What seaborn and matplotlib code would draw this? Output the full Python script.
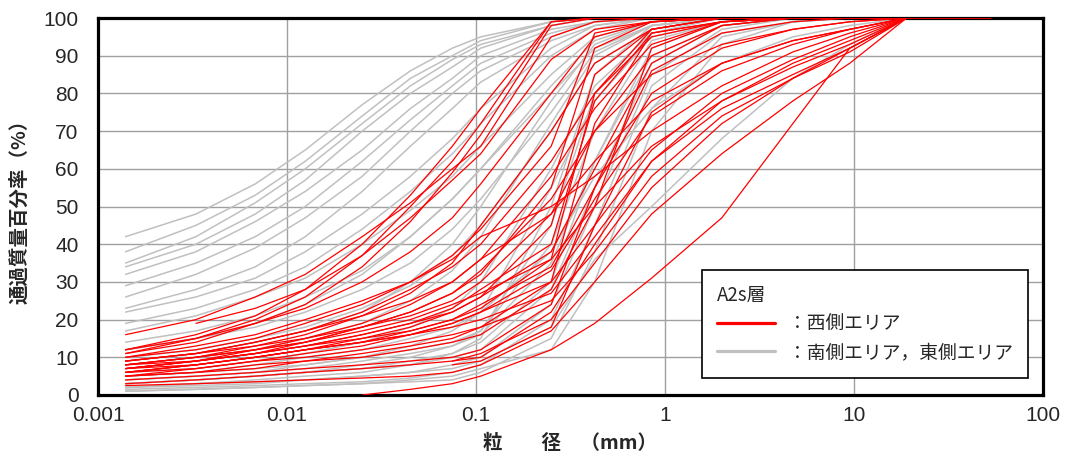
# 粒径加積曲線 (A2s層)
import numpy as np
import pandas as pd
import matplotlib
matplotlib.use("Agg")
import matplotlib.pyplot as plt
from matplotlib.lines import Line2D
from matplotlib.ticker import LogLocator, FixedLocator, MultipleLocator, FuncFormatter
import seaborn as sns

# ==========================================
# Data
# ==========================================
N = None

# grain size (mm)
sizes = [0.0014, 0.0033, 0.0068, 0.0125, 0.025, 0.045, 0.075, 0.106,
         0.25, 0.425, 0.85, 2.0, 4.75, 9.5, 19.0, 53.0]

# west area (red): passing percent at each size
west_curves = [
    [12, 16, 21, 28, 40, 53, 66, 76, 99, 100, 100, 100, 100, 100, 100, N],
    [11, 15, 20, 26, 37, 50, 62, 72, 99, 100, 100, 100, 100, 100, 100, N],
    [11, 14, 19, 24, 34, 46, 59, 69, 98, 100, 100, 100, 100, 100, 100, N],
    [16, 20, 26, 32, 42, 51, 60, 66, 95, 99, 100, 100, 100, 100, 100, N],
    [N, 19, 23, 28, 37, 47, 57, 64, 89, 97, 99, 100, 100, 100, 100, 100],
    [12, 15, 19, 23, 30, 38, 47, 56, 80, 95, 99, 100, 100, 100, 100, N],
    [9, 11, 14, 17, 22, 28, 34, 40, 62, 80, 95, 99, 100, 100, 100, N],
    [8, 10, 12, 15, 19, 24, 30, 36, 58, 76, 93, 99, 100, 100, 100, N],
    [7, 9, 12, 14, 18, 22, 27, 33, 52, 70, 90, 98, 100, 100, 100, N],
    [8, 10, 13, 16, 21, 27, 35, 45, 70, 88, 97, 100, 100, 100, 100, N],
    [6, 8, 10, 12, 15, 18, 22, 26, 38, 60, 88, 98, 100, 100, 100, N],
    [7, 9, 11, 13, 16, 19, 23, 28, 40, 78, 96, 99, 100, 100, 100, N],
    [6, 8, 10, 12, 14, 17, 20, 24, 34, 55, 80, 92, 97, 99, 100, N],
    [9, 11, 14, 17, 21, 25, 30, 36, 48, 62, 78, 88, 94, 97, 100, N],
    [5, 7, 9, 11, 13, 16, 19, 22, 30, 45, 65, 80, 89, 95, 100, N],
    [8, 10, 12, 14, 17, 20, 24, 27, 36, 50, 66, 78, 87, 93, 100, N],
    [6, 8, 10, 12, 14, 16, 18, 20, 27, 42, 62, 76, 85, 92, 100, N],
    [5, 6, 8, 9, 11, 13, 15, 18, 25, 38, 58, 74, 84, 91, 100, N],
    [7, 9, 11, 13, 15, 17, 20, 23, 36, 80, 97, 100, 100, 100, 100, N],
    [6, 7, 9, 10, 12, 14, 16, 18, 30, 72, 96, 99, 100, 100, 100, N],
    [5, 6, 7, 9, 10, 12, 14, 16, 28, 50, 92, 99, 100, 100, 100, N],
    [10, 13, 16, 20, 25, 30, 36, 42, 50, 58, 70, 82, 91, 96, 100, N],
    [3, 4, 5, 6, 7, 8, 9, 11, 20, 35, 55, 72, 84, 92, 100, N],
    [N, N, N, N, N, N, 9, 10, 22, 40, 62, 78, 88, 94, 100, N],
    [N, N, N, N, N, N, 8, 9, 18, 45, 75, 88, 94, 97, 100, N],
    [N, N, N, N, 0, 1.5, 3, 5, 12, 19, 31, 47, 72, 92, 100, N],
    [4, 5, 6, 7, 8, 9, 10, 12, 24, 55, 86, 96, 99, 100, 100, N],
    [8, 9, 11, 13, 16, 19, 22, 26, 45, 85, 97, 100, 100, 100, 100, N],
    [9, 11, 13, 15, 18, 21, 25, 30, 48, 70, 85, 93, 97, 99, 100, N],
    [7, 8, 10, 12, 14, 16, 19, 22, 33, 52, 74, 86, 93, 97, 100, 100],
    [2.5, 3, 3.5, 4, 4.5, 5, 6, 8, 17, 30, 48, 64, 78, 88, 100, N],
    [10, 12, 15, 19, 24, 30, 37, 44, 66, 96, 99, 100, 100, 100, 100, N],
    [7, 9, 11, 14, 18, 22, 27, 32, 55, 92, 99, 100, 100, 100, 100, N],
]

# south / east area (gray)
south_east_curves = [
    [42, 48, 56, 65, 77, 86, 92, 95, 99, 100, 100, 100, 100, 100, 100, N],
    [38, 45, 53, 62, 74, 84, 90, 94, 99, 100, 100, 100, 100, 100, 100, N],
    [35, 42, 51, 60, 72, 82, 89, 93, 98, 100, 100, 100, 100, 100, 100, N],
    [34, 40, 48, 57, 70, 80, 87, 92, 98, 100, 100, 100, 100, 100, 100, N],
    [32, 38, 46, 54, 65, 76, 84, 90, 97, 99, 100, 100, 100, 100, 100, N],
    [29, 35, 42, 50, 62, 73, 82, 88, 96, 99, 100, 100, 100, 100, 100, N],
    [26, 32, 39, 47, 58, 70, 80, 86, 95, 99, 100, 100, 100, 100, 100, N],
    [23, 28, 34, 42, 54, 66, 76, 83, 94, 98, 100, 100, 100, 100, 100, N],
    [22, 26, 31, 38, 48, 58, 68, 76, 92, 98, 100, 100, 100, 100, 100, N],
    [19, 23, 28, 34, 44, 54, 64, 72, 90, 97, 100, 100, 100, 100, 100, N],
    [17, 21, 26, 31, 40, 49, 58, 66, 85, 95, 99, 100, 100, 100, 100, N],
    [14, 17, 21, 26, 33, 42, 52, 60, 82, 94, 99, 100, 100, 100, 100, N],
    [12, 15, 18, 22, 28, 35, 44, 52, 75, 91, 98, 100, 100, 100, 100, N],
    [10, 12, 15, 18, 23, 29, 37, 45, 70, 88, 97, 100, 100, 100, 100, N],
    [5, 6, 7, 8, 10, 12, 14, 17, 40, 70, 94, 99, 100, 100, 100, N],
    [4, 5, 6, 7, 9, 11, 13, 16, 35, 62, 90, 98, 100, 100, 100, N],
    [3, 4, 5, 6, 7, 8, 10, 12, 28, 55, 88, 98, 100, 100, 100, N],
    [2, 3, 3.5, 4, 5, 6, 8, 10, 24, 50, 85, 97, 100, 100, 100, N],
    [1.5, 2, 2.5, 3, 3.5, 4.5, 6, 8, 20, 45, 82, 96, 99, 100, 100, N],
    [1, 1.5, 2, 2.5, 3, 4, 5, 7, 12, 30, 70, 93, 99, 100, 100, N],
    [3, 4, 5, 6, 8, 10, 13, 17, 45, 80, 97, 100, 100, 100, 100, N],
    [2, 3, 4, 5, 6, 8, 11, 15, 50, 85, 98, 100, 100, 100, 100, N],
    [4, 5, 6, 8, 10, 13, 17, 22, 55, 78, 95, 99, 100, 100, 100, N],
    [6, 7, 9, 11, 14, 18, 23, 30, 60, 82, 96, 100, 100, 100, 100, N],
    [8, 10, 12, 15, 19, 25, 33, 42, 72, 90, 98, 100, 100, 100, 100, N],
    [2, 2.5, 3, 4, 5, 6, 7, 9, 18, 36, 50, 68, 84, 93, 100, N],
    [5, 6, 8, 10, 12, 15, 18, 22, 38, 58, 76, 88, 95, 98, 100, 100],
    [3, 4, 5, 6, 7, 9, 11, 14, 30, 62, 92, 99, 100, 100, 100, N],
    [1, 1.5, 2, 2.5, 3, 3.5, 4, 6, 15, 38, 76, 95, 99, 100, 100, N],
    [12, 15, 19, 24, 32, 42, 52, 60, 80, 92, 98, 100, 100, 100, 100, N],
    [9, 11, 14, 17, 22, 30, 40, 50, 78, 93, 99, 100, 100, 100, 100, N],
]

x_ticks = [0.001, 0.01, 0.1, 1, 10, 100]
y_ticks = list(range(0, 101, 10))


def to_long(curves, area):
    rows = []
    for i, values in enumerate(curves):
        for d, p in zip(sizes, values):
            if p is not None:
                rows.append({"sample": f"{area}{i}", "size": d, "passing": p})
    return pd.DataFrame(rows)


df_west = to_long(west_curves, "W")
df_se = to_long(south_east_curves, "S")

# ==========================================
# Plot
# ==========================================
sns.set_style("white")
plt.rcParams["font.family"] = ["Liberation Sans", "Noto Sans CJK JP", "DejaVu Sans"]
JP = ["Noto Sans CJK JP", "DejaVu Sans"]

fig = plt.figure(figsize=(10.72, 4.68), dpi=100)
ax = fig.add_axes([0.0914, 0.156, 0.8815, 0.8055])

GRAY = "#c0c0c0"
RED = "#ff0000"

sns.lineplot(data=df_se, x="size", y="passing", units="sample", estimator=None,
             sort=False, color=GRAY, linewidth=1.1, ax=ax, legend=False)
sns.lineplot(data=df_west, x="size", y="passing", units="sample", estimator=None,
             sort=False, color=RED, linewidth=0.9, ax=ax, legend=False, zorder=3)

ax.set_xscale("log")
ax.set_xlim(0.001, 100)
ax.set_ylim(0, 100)

ax.xaxis.set_major_locator(FixedLocator(x_ticks))
ax.xaxis.set_major_formatter(FuncFormatter(lambda v, p: f"{v:g}"))
ax.xaxis.set_minor_locator(LogLocator(base=10, subs=np.arange(2, 10), numticks=20))
ax.yaxis.set_major_locator(FixedLocator(y_ticks))
ax.yaxis.set_minor_locator(MultipleLocator(1))

ax.grid(True, which="major", color="#a0a0a0", linewidth=1.0)
ax.set_axisbelow(True)

ax.tick_params(axis="x", which="major", direction="in", length=6, width=1.5,
               labelsize=15, pad=8, top=False)
ax.tick_params(axis="x", which="minor", direction="in", length=5, width=1.2, top=False)
ax.tick_params(axis="y", which="major", direction="in", length=5, width=1.3,
               labelsize=15, pad=14, right=False)
ax.tick_params(axis="y", which="minor", direction="in", length=3, width=0.9, right=False)

for s in ax.spines.values():
    s.set_visible(True)
    s.set_color("black")
    s.set_linewidth(2.3)

ax.set_xlabel("粒　　径　（mm）", fontsize=14, family=JP, fontweight="bold", labelpad=6)
ax.set_ylabel("通過質量百分率（%）", fontsize=14, family=JP, fontweight="bold", labelpad=10)

handles = [Line2D([], [], color=RED, linewidth=2.3),
           Line2D([], [], color=GRAY, linewidth=2.3)]
labels = ["：西側エリア", "：南側エリア，東側エリア"]
leg = ax.legend(handles, labels, title="A2s層", loc="lower right",
                bbox_to_anchor=(0.984, 0.045), frameon=True, fancybox=False,
                edgecolor="black", framealpha=1, alignment="left",
                handlelength=3.1, handletextpad=0.7, labelspacing=0.4,
                borderpad=0.8, borderaxespad=0,
                prop={"family": JP, "size": 13.5},
                title_fontproperties={"family": JP, "size": 13.5})
leg.get_frame().set_linewidth(1.2)
leg.set_zorder(5)

fig.savefig("out.png", dpi=100)
